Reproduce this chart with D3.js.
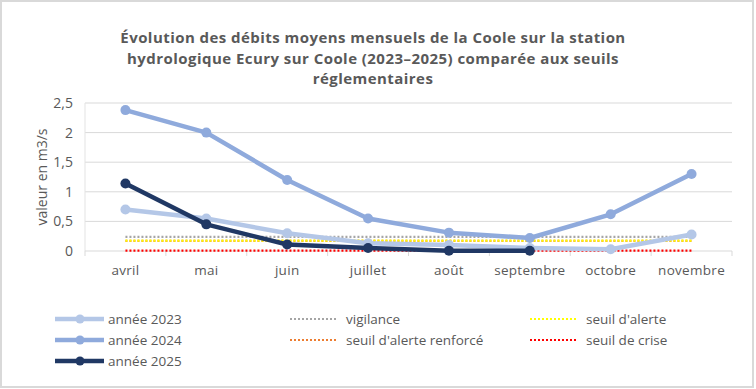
<!DOCTYPE html>
<html>
<head>
<meta charset="utf-8">
<script src="https://cdn.jsdelivr.net/npm/d3@7"></script>
<style>
  body { margin: 0; background: #fff; }
  text { font-family: "Open Sans", "Noto Sans", sans-serif; fill: #595959; }
</style>
</head>
<body>
<div id="chart"></div>
<script>
// months on the x axis
const months = ["avril", "mai", "juin", "juillet", "août", "septembre", "octobre", "novembre"];

// monthly mean flow (m3/s)
const flow2023 = [0.70, 0.55, 0.30, 0.13, 0.10, 0.05, 0.03, 0.28];
const flow2024 = [2.38, 2.00, 1.20, 0.55, 0.31, 0.22, 0.62, 1.30];
const flow2025 = [1.14, 0.45, 0.11, 0.05, 0.005, 0.005];

// regulatory thresholds (constant over the period)
const thresholdNames = ["vigilance", "seuil d'alerte renforcé", "seuil d'alerte", "seuil de crise"];
const thresholdValues = [0.24, 0.17, 0.175, 0.005];

const yTicks = [0, 0.5, 1, 1.5, 2, 2.5];

const width = 756, height = 389;
const margin = {top: 103, right: 24, bottom: 138, left: 85};

let svg = d3.select("#chart").append("svg")
    .attr("width", width)
    .attr("height", height);

// outer frame
svg.append("rect")
    .attr("x", 1).attr("y", 1)
    .attr("width", width - 4).attr("height", height - 3)
    .attr("fill", "#fff")
    .attr("stroke", "#d9d9d9")
    .attr("stroke-width", 2);

// title, one text per line
let titleLines = ["Évolution des débits moyens mensuels de la Coole sur la station",
                  "hydrologique Ecury sur Coole (2023–2025) comparée aux seuils",
                  "réglementaires"];
svg.append("g")
    .selectAll("text")
    .data(titleLines)
    .join("text")
    .attr("x", 373)
    .attr("y", (d, i) => 43 + i * 20.5)
    .attr("text-anchor", "middle")
    .style("font-size", "15px")
    .style("letter-spacing", "0.45px")
    .style("font-weight", "bold")
    .text(d => d);

let x = d3.scaleBand()
    .domain(months)
    .range([margin.left, width - margin.right]);

let y = d3.scaleLinear()
    .domain([0, 2.5])
    .range([height - margin.bottom, margin.top]);

let cx = m => x(m) + x.bandwidth() / 2;

// gridlines
svg.append("g")
    .selectAll("line")
    .data(yTicks.slice(1))
    .join("line")
    .attr("x1", margin.left).attr("x2", width - margin.right)
    .attr("y1", d => y(d)).attr("y2", d => y(d))
    .attr("stroke", "#d9d9d9")
    .attr("stroke-width", 1);

// left vertical line
svg.append("line")
    .attr("x1", margin.left).attr("x2", margin.left)
    .attr("y1", y(2.5)).attr("y2", y(0))
    .attr("stroke", "#e3e3e3");

// y axis labels
let yAxis = d3.axisLeft(y)
    .tickValues(yTicks)
    .tickSize(0)
    .tickPadding(12)
    .tickFormat(d => d3.format("")(d).replace(".", ","));
svg.append("g")
    .attr("transform", `translate(${margin.left},0)`)
    .call(yAxis)
    .call(g => g.select(".domain").remove())
    .call(g => g.selectAll("text").style("font-size", "14px").attr("fill", "#595959"));

// x axis: baseline + ticks at category boundaries
let xAxis = svg.append("g");
xAxis.append("line")
    .attr("x1", margin.left).attr("x2", width - margin.right)
    .attr("y1", y(0)).attr("y2", y(0))
    .attr("stroke", "#d9d9d9");
xAxis.selectAll("line.tick")
    .data(months.map(m => x(m)).concat([width - margin.right]))
    .join("line")
    .attr("class", "tick")
    .attr("x1", d => d).attr("x2", d => d)
    .attr("y1", y(0)).attr("y2", y(0) + 5)
    .attr("stroke", "#d9d9d9");
xAxis.selectAll("text")
    .data(months)
    .join("text")
    .attr("x", d => cx(d))
    .attr("y", y(0) + 24)
    .attr("text-anchor", "middle")
    .style("font-size", "13.5px")
    .style("letter-spacing", "0.3px")
    .text(d => d);

// y axis title
svg.append("text")
    .attr("transform", `translate(47,${(y(0) + y(2.5)) / 2}) rotate(-90)`)
    .attr("text-anchor", "middle")
    .style("font-size", "14px")
    .text("valeur en m3/s");

// threshold lines
let thresholdColors = ["#a5a5a5", "#ed7d31", "#ffff00", "#ff0000"];
thresholdValues.forEach((v, i) => {
    svg.append("line")
        .attr("x1", cx(months[0])).attr("x2", cx(months[months.length - 1]))
        .attr("y1", y(v)).attr("y2", y(v))
        .attr("stroke", thresholdColors[i])
        .attr("stroke-width", 2.2)
        .attr("stroke-dasharray", "2,2");
});

// series
let series = [
    {name: "année 2023", values: flow2023, color: "#b4c7e7"},
    {name: "année 2024", values: flow2024, color: "#8faadc"},
    {name: "année 2025", values: flow2025, color: "#203864"}
];

let line = d3.line()
    .x((d, i) => cx(months[i]))
    .y(d => y(d));

series.forEach(s => {
    let g = svg.append("g");
    g.append("path")
        .datum(s.values)
        .attr("d", line)
        .attr("fill", "none")
        .attr("stroke", s.color)
        .attr("stroke-width", 4.5)
        .attr("stroke-linejoin", "round");
    g.selectAll("circle")
        .data(s.values)
        .join("circle")
        .attr("cx", (d, i) => cx(months[i]))
        .attr("cy", d => y(d))
        .attr("r", 5)
        .attr("fill", s.color);
});

// legend
let legend = svg.append("g");
series.forEach((s, i) => {
    let ly = 319 + i * 21;
    legend.append("line")
        .attr("x1", 55).attr("x2", 104)
        .attr("y1", ly).attr("y2", ly)
        .attr("stroke", s.color).attr("stroke-width", 4.5);
    legend.append("circle")
        .attr("cx", 80).attr("cy", ly).attr("r", 4.5)
        .attr("fill", s.color);
    legend.append("text")
        .attr("x", 108).attr("y", ly + 5)
        .style("font-size", "13.5px")
        .text(s.name);
});

let legendPos = [[290, 319], [290, 340], [530, 319], [530, 340]];
// order in legend: vigilance, renforcé, alerte, crise
thresholdNames.forEach((n, i) => {
    let [lx, ly] = legendPos[i];
    legend.append("line")
        .attr("x1", lx).attr("x2", lx + 46)
        .attr("y1", ly).attr("y2", ly)
        .attr("stroke", thresholdColors[i])
        .attr("stroke-width", 2)
        .attr("stroke-dasharray", "2,2");
    legend.append("text")
        .attr("x", lx + 56).attr("y", ly + 5)
        .style("font-size", "13.5px")
        .text(n);
});
</script>
</body>
</html>
